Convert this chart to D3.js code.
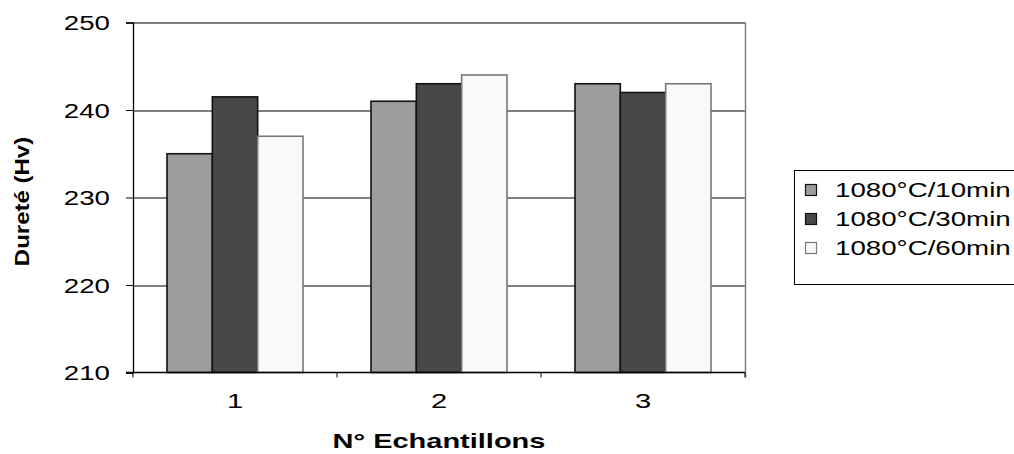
<!DOCTYPE html>
<html>
<head>
<meta charset="utf-8">
<script src="https://cdn.jsdelivr.net/npm/d3@7"></script>
<style>
  body { margin: 0; background: #fff; }
  text { font-family: "Liberation Sans", Arial, sans-serif; fill: #000; }
</style>
</head>
<body>
<div id="chart-area"></div>
<script>
// Durete (Hv) par echantillon et par traitement
let categories = ["1", "2", "3"];
let series = ["1080°C/10min", "1080°C/30min", "1080°C/60min"];
let values10 = [235, 241, 243];
let values30 = [241.5, 243, 242];
let values60 = [237, 244, 243];
let yTicks = [210, 220, 230, 240, 250];

let fills = ["#9d9d9d", "#484848", "#f9f9f9"];
let strokes = ["#111", "#111", "#777"];
let allValues = [values10, values30, values60];

let W = 1014, H = 454;
let margin = { left: 133, right: 269, top: 22.5, bottom: 81.5 };
let width = W - margin.left - margin.right,
    height = H - margin.top - margin.bottom;
let sx = 1.42; // glyphs in the source are wide

let svg = d3.select("#chart-area").append("svg")
    .attr("width", W).attr("height", H);

let g = svg.append("g")
    .attr("transform", "translate(" + margin.left + "," + margin.top + ")");

// scales
let x0 = d3.scaleBand().domain(categories).range([0, width]).padding(0);
let x1 = d3.scaleBand().domain(series).range([0, x0.bandwidth()])
    .paddingInner(0).paddingOuter(0.75);
let y = d3.scaleLinear().domain([210, 250]).range([height, 0]);

// gridlines
g.append("g").selectAll("line")
    .data(yTicks.slice(1))
    .enter().append("line")
    .attr("x1", 0).attr("x2", width)
    .attr("y1", d => Math.round(y(d)) + 0.5).attr("y2", d => Math.round(y(d)) + 0.5)
    .attr("stroke", "#000").attr("stroke-width", 1);

// right border of plot area
g.append("line")
    .attr("x1", width + 0.5).attr("x2", width + 0.5)
    .attr("y1", 0).attr("y2", height + 5)
    .attr("stroke", "#808080").attr("stroke-width", 1.5);

// bars
let groups = g.append("g").selectAll("g")
    .data(categories)
    .enter().append("g")
    .attr("transform", d => "translate(" + x0(d) + ",0)");

groups.selectAll("rect")
    .data((c, ci) => series.map((s, si) => ({ s: s, si: si, v: allValues[si][ci] })))
    .enter().append("rect")
    .attr("x", d => x1(d.s))
    .attr("y", d => y(d.v))
    .attr("width", x1.bandwidth())
    .attr("height", d => height - y(d.v))
    .attr("fill", d => fills[d.si])
    .attr("stroke", d => strokes[d.si])
    .attr("stroke-width", 1.6);

// Y axis
let yAxis = g.append("g")
    .call(d3.axisLeft(y).tickValues(yTicks).tickSize(7).tickPadding(0));
yAxis.select(".domain").attr("stroke", "#000").attr("stroke-width", 1.3);
yAxis.selectAll(".tick line").attr("stroke", "#000");
yAxis.selectAll(".tick text")
    .attr("x", -23 / sx)
    .attr("dy", "0.36em")
    .attr("font-size", "19.5px")
    .attr("font-family", "Liberation Sans, Arial, sans-serif")
    .attr("transform", "scale(" + sx + ",1)");

// X axis: line, ticks between categories, labels in the middle
let xAxis = g.append("g").attr("transform", "translate(0," + height + ")");
xAxis.append("line")
    .attr("x1", -7).attr("x2", width)
    .attr("stroke", "#000").attr("stroke-width", 1.3);
xAxis.selectAll(".bound")
    .data(categories.map(c => x0(c)).concat([x0.range()[1]]))
    .enter().append("line")
    .attr("class", "bound")
    .attr("x1", d => d).attr("x2", d => d)
    .attr("y1", 0).attr("y2", 5)
    .attr("stroke", "#000");
xAxis.selectAll(".cat")
    .data(categories)
    .enter().append("text")
    .attr("class", "cat")
    .attr("transform", d => "translate(" + (x0(d) + x0.bandwidth() / 2) + ",35.5) scale(" + sx + ",1)")
    .attr("text-anchor", "middle")
    .attr("font-size", "20.5px")
    .text(d => d);

// X Label
svg.append("text")
    .attr("transform", "translate(" + (margin.left + width / 2) + ",448) scale(1.45,1)")
    .attr("text-anchor", "middle")
    .attr("font-size", "20px")
    .attr("font-weight", "bold")
    .text("N° Echantillons");

// Y Label
svg.append("text")
    .attr("transform", "translate(29," + (margin.top + height / 2 + 4) + ") rotate(-90) scale(1.2,1)")
    .attr("text-anchor", "middle")
    .attr("font-size", "20px")
    .attr("font-weight", "bold")
    .text("Dureté (Hv)");

// Legend
let legend = svg.append("g").attr("transform", "translate(794,170)");
legend.append("rect")
    .attr("x", 0.5).attr("y", 0.5)
    .attr("width", 240).attr("height", 114)
    .attr("fill", "#fff").attr("stroke", "#000").attr("stroke-width", 1);

let items = legend.selectAll(".item")
    .data(series)
    .enter().append("g")
    .attr("class", "item")
    .attr("transform", (d, i) => "translate(0," + (20 + i * 29) + ")");
items.append("rect")
    .attr("x", 11.5).attr("y", -5.5)
    .attr("width", 11).attr("height", 11)
    .attr("fill", (d, i) => fills[i])
    .attr("stroke", (d, i) => strokes[i])
    .attr("stroke-width", 1.2);
items.append("text")
    .attr("transform", "translate(41,7) scale(" + sx + ",1)")
    .attr("font-size", "19.5px")
    .text(d => d);
</script>
</body>
</html>
